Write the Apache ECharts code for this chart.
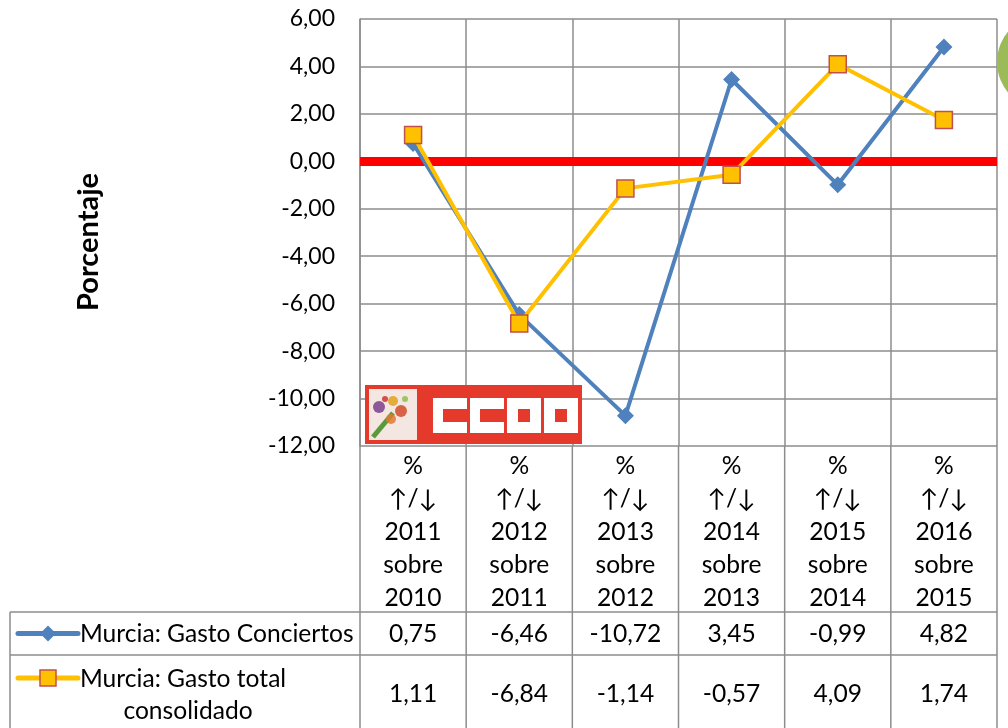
<!DOCTYPE html>
<html>
  <head>
    <meta charset="utf-8" />
    <title>Murcia: Gasto Conciertos</title>
    <script src="https://cdn.jsdelivr.net/npm/echarts@6.0.0/dist/echarts.min.js"></script>
    <style>
      html, body { margin: 0; padding: 0; background: #fff; }
    </style>
  </head>
  <body>
    <div id="main" style="width: 1008px; height: 728px"></div>
    <script>
      // datos
      var years = ["2011", "2012", "2013", "2014", "2015", "2016"];
      var baseYears = ["2010", "2011", "2012", "2013", "2014", "2015"];
      var seriesNames = ["Murcia: Gasto Conciertos", "Murcia: Gasto total consolidado"];
      var conciertos = [0.75, -6.46, -10.72, 3.45, -0.99, 4.82];
      var totalConsolidado = [1.11, -6.84, -1.14, -0.57, 4.09, 1.74];
      var yMin = -12, yMax = 6, yStep = 2;

      var categories = years.map(function (y, i) {
        return "%\n↑/↓\n" + y + "\nsobre\n" + baseYears[i];
      });

      var FONT = "Lato";
      var GRID = "#8c8c8c";
      var BLUE = "#4f81bd";
      var YELLOW = "#ffc000";
      var BORDER = "#c0504d";
      var TABLE_FS = 24.6;

      function fmt(v) {
        return v.toFixed(2).replace(".", ",");
      }

      var option = {
        animation: false,
        textStyle: { fontFamily: FONT },
        grid: { left: 360, right: 11, top: 19, bottom: 282 },
        xAxis: {
          type: "category",
          data: categories,
          boundaryGap: true,
          axisLine: { lineStyle: { color: GRID, width: 1.5 } },
          axisTick: { show: false },
          splitLine: { show: true, lineStyle: { color: GRID, width: 1.5 } },
          axisLabel: {
            interval: 0,
            margin: 4,
            lineHeight: 33,
            fontSize: TABLE_FS,
            color: "#000",
            fontFamily: FONT
          }
        },
        yAxis: {
          type: "value",
          min: yMin,
          max: yMax,
          interval: yStep,
          axisLine: { show: true, lineStyle: { color: GRID, width: 1.5 } },
          axisTick: { show: false },
          splitLine: { lineStyle: { color: GRID, width: 1.5 } },
          axisLabel: {
            margin: 25,
            fontSize: 23,
            color: "#000",
            fontFamily: FONT,
            formatter: fmt
          }
        },
        series: [
          {
            name: seriesNames[0],
            type: "line",
            data: conciertos,
            symbol: "diamond",
            symbolSize: 17,
            lineStyle: { color: BLUE, width: 4 },
            itemStyle: { color: BLUE },
            z: 3,
            markLine: {
              silent: true,
              symbol: "none",
              label: { show: false },
              lineStyle: { color: "#ff0000", width: 9, type: "solid" },
              data: [{ yAxis: 0 }],
              z: 1
            }
          },
          {
            name: seriesNames[1],
            type: "line",
            data: totalConsolidado,
            symbol: "rect",
            symbolSize: 17,
            lineStyle: { color: YELLOW, width: 4 },
            itemStyle: { color: YELLOW, borderColor: BORDER, borderWidth: 1.5 },
            z: 4
          }
        ]
      };

      var myChart = echarts.init(document.getElementById("main"));
      myChart.setOption(option);

      // tabla de datos debajo del eje
      var x0 = myChart.convertToPixel({ xAxisIndex: 0 }, 0);
      var x1 = myChart.convertToPixel({ xAxisIndex: 0 }, 1);
      var band = x1 - x0;
      var left = x0 - band / 2;
      var right = left + band * years.length;
      var axisY = myChart.convertToPixel({ yAxisIndex: 0 }, yMin);
      var row1 = 612, row2 = 655, bottom = 728;
      var lineStyle = { stroke: GRID, lineWidth: 1.5 };
      var els = [];

      function line(xa, ya, xb, yb) {
        els.push({ type: "line", shape: { x1: xa, y1: ya, x2: xb, y2: yb }, style: lineStyle, silent: true });
      }
      function text(str, x, y, align) {
        els.push({
          type: "text",
          x: x,
          y: y,
          style: { text: str, fontSize: TABLE_FS, fontFamily: FONT, fill: "#000", align: align || "center", verticalAlign: "middle" },
          silent: true
        });
      }

      line(10, row1, right, row1);
      line(10, row2, right, row2);
      line(10, row1, 10, bottom);
      for (var i = 0; i <= years.length; i++) {
        line(left + band * i, axisY, left + band * i, bottom);
      }
      for (var j = 0; j < years.length; j++) {
        var cx = left + band * (j + 0.5);
        text(fmt(conciertos[j]), cx, (row1 + row2) / 2 + 1);
        text(fmt(totalConsolidado[j]), cx, 694);
      }

      // leyenda dentro de la tabla
      var ly1 = (row1 + row2) / 2;
      line(18, ly1, 78, ly1);
      els[els.length - 1].style = { stroke: BLUE, lineWidth: 5, lineCap: "round" };
      els.push({ type: "polygon", shape: { points: [[48, ly1 - 8], [56, ly1], [48, ly1 + 8], [40, ly1]] }, style: { fill: BLUE } });
      text(seriesNames[0], 80, ly1 + 1, "left");

      var ly2 = 678;
      line(18, ly2, 78, ly2);
      els[els.length - 1].style = { stroke: YELLOW, lineWidth: 5, lineCap: "round" };
      els.push({ type: "rect", shape: { x: 40, y: ly2 - 8, width: 16, height: 16 }, style: { fill: YELLOW, stroke: BORDER, lineWidth: 1.5 } });
      text("Murcia: Gasto total", 80, ly2 + 1, "left");
      text("consolidado", 188, 711);

      // titulo del eje Y
      els.push({
        type: "text",
        x: 89,
        y: 242,
        rotation: Math.PI / 2,
        style: { text: "Porcentaje", fontSize: 29, fontWeight: "bold", fontFamily: FONT, fill: "#000", align: "center", verticalAlign: "middle" },
        silent: true
      });

      // logo CCOO
      var lg = { x: 365, y: 385, w: 217, h: 59 };
      els.push({ type: "rect", shape: { x: lg.x, y: lg.y, width: lg.w, height: lg.h }, style: { fill: "#e5392b" }, z: 10 });
      els.push({ type: "rect", shape: { x: lg.x + 4, y: lg.y + 4, width: 48, height: lg.h - 8 }, style: { fill: "#f4e6e0" }, z: 10 });
      els.push({ type: "line", shape: { x1: lg.x + 8, y1: lg.y + 52, x2: lg.x + 28, y2: lg.y + 28 }, style: { stroke: "#5a9a3a", lineWidth: 5 }, z: 11 });
      [["#7a3d8c", 14, 22, 6], ["#e0a020", 28, 16, 5], ["#d24a2a", 36, 26, 6], ["#e07a30", 26, 34, 5], ["#8bbf4a", 40, 14, 3], ["#c33", 20, 14, 3]].forEach(function (f) {
        els.push({ type: "circle", shape: { cx: lg.x + f[1], cy: lg.y + f[2], r: f[3] }, style: { fill: f[0], opacity: 0.85 }, z: 11 });
      });
      // letras C C O O
      var letters = [[433, "C"], [470, "C"], [507, "O"], [544, "O"]];
      letters.forEach(function (l) {
        var lx = l[0], ly = 398, lw = 34, lh = 35;
        els.push({ type: "rect", shape: { x: lx, y: ly, width: lw, height: lh }, style: { fill: "#fff" }, z: 11 });
        if (l[1] === "C") {
          els.push({ type: "rect", shape: { x: lx + 10, y: ly + 11, width: lw - 10, height: lh - 22 }, style: { fill: "#e5392b" }, z: 12 });
        } else {
          els.push({ type: "rect", shape: { x: lx + 11, y: ly + 11, width: lw - 22, height: lh - 22 }, style: { fill: "#e5392b" }, z: 12 });
        }
      });

      // circulo verde en la esquina
      els.push({ type: "circle", shape: { cx: 1045, cy: 62, r: 48 }, style: { fill: "#9bbb59" }, z: 10 });

      myChart.setOption({ graphic: { elements: els } });
    </script>
  </body>
</html>
